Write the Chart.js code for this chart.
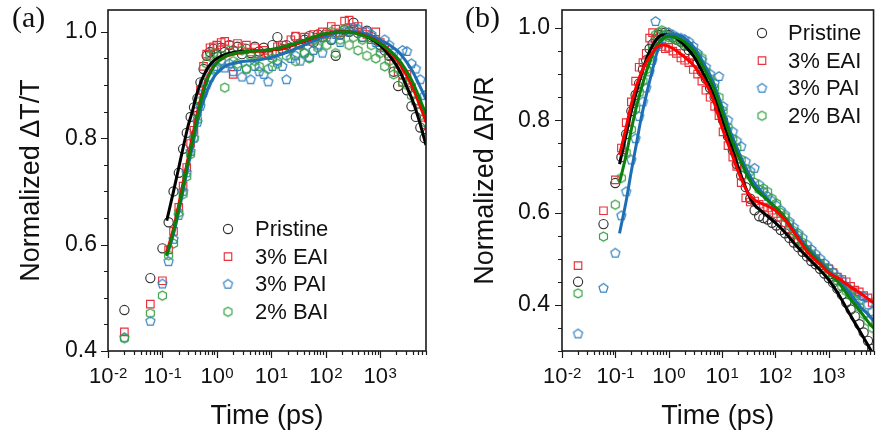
<!DOCTYPE html>
<html>
<head>
<meta charset="utf-8">
<script src="https://cdn.jsdelivr.net/npm/chart.js@4.4.1/dist/chart.umd.min.js"></script>
<style>
  html, body { margin: 0; padding: 0; background: #fff; overflow: hidden; }
  #wrap { position: relative; width: 877px; height: 438px; overflow: hidden; }
  .panel { position: absolute; top: 0; width: 440px; height: 438px; }
</style>
</head>
<body>
<div id="wrap">
  <div class="panel" style="left:0"><canvas id="chartA" width="440" height="438"></canvas></div>
  <div class="panel" style="left:440px"><canvas id="chartB" width="440" height="438"></canvas></div>
</div>
<script>
// delay times (ps) of the measured points, shared by every series
const times = [0.02, 0.06, 0.1, 0.13, 0.16, 0.2, 0.24, 0.28, 0.33, 0.38,
  0.44, 0.5, 0.57, 0.65, 0.75, 0.87, 1.0, 1.2, 1.4, 1.7,
  2.0, 2.4, 2.9, 3.5, 4.2, 5, 6, 7.3, 8.8, 10.5,
  13, 16, 19, 23, 28, 34, 41, 50, 60, 72,
  87, 105, 127, 153, 185, 223, 270, 326, 394, 475,
  574, 693, 837, 1010, 1220, 1470, 1780, 2150, 2600, 3130,
  3780, 4560, 5500, 6600];

const seriesNames = ['Pristine', '3% EAI', '3% PAI', '2% BAI'];

// (a) normalized dT/T
const pristineA = [0.477, 0.537, 0.593, 0.642, 0.700, 0.735, 0.780, 0.810, 0.840, 0.858,
  0.875, 0.905, 0.930, 0.955, 0.962, 0.968, 0.958, 0.970, 0.962, 0.975,
  0.965, 0.972, 0.958, 0.968, 0.960, 0.972, 0.963, 0.970, 0.960, 0.975,
  0.990, 0.968, 0.975, 0.970, 0.990, 0.978, 0.985, 0.992, 0.980, 0.995,
  0.990, 0.998, 0.985, 0.955, 0.995, 1.003, 1.000, 1.017, 0.998, 0.990,
  1.002, 0.990, 0.985, 0.975, 0.965, 0.955, 0.925, 0.898, 0.920, 0.890,
  0.860, 0.840, 0.820, 0.800];
const eaiA = [0.436, 0.488, 0.532, 0.590, 0.625, 0.670, 0.710, 0.745, 0.790, 0.815,
  0.850, 0.890, 0.935, 0.958, 0.970, 0.972, 0.975, 0.980, 0.982, 0.975,
  0.920, 0.978, 0.970, 0.975, 0.962, 0.970, 0.958, 0.965, 0.955, 0.960,
  0.972, 0.975, 0.968, 0.985, 0.992, 0.975, 0.990, 0.982, 0.995, 0.990,
  1.000, 0.995, 1.010, 1.005, 0.998, 1.020, 1.022, 1.005, 1.010, 1.000,
  0.995, 0.985, 1.000, 0.980, 0.970, 0.955, 0.940, 0.925, 0.905, 0.920,
  0.895, 0.870, 0.850, 0.825];
const paiA = [0.425, 0.456, 0.526, 0.568, 0.610, 0.655, 0.700, 0.735, 0.775, 0.800,
  0.830, 0.860, 0.885, 0.900, 0.915, 0.930, 0.935, 0.945, 0.932, 0.940,
  0.925, 0.935, 0.915, 0.930, 0.910, 0.935, 0.925, 0.920, 0.906, 0.935,
  0.945, 0.935, 0.910, 0.950, 0.955, 0.945, 0.960, 0.952, 0.965, 0.975,
  0.960, 0.990, 0.985, 0.995, 0.980, 1.000, 1.000, 1.008, 1.005, 0.990,
  1.000, 0.995, 0.980, 0.970, 0.985, 0.975, 0.960, 0.955, 0.965, 0.963,
  0.940, 0.930, 0.910, 0.880];
const baiA = [0.424, 0.471, 0.504, 0.580, 0.602, 0.660, 0.695, 0.728, 0.770, 0.800,
  0.835, 0.870, 0.905, 0.940, 0.955, 0.960, 0.930, 0.955, 0.895, 0.965,
  0.945, 0.940, 0.965, 0.930, 0.955, 0.945, 0.935, 0.958, 0.930, 0.950,
  0.940, 0.965, 0.955, 0.970, 0.945, 0.975, 0.960, 0.950, 0.985, 0.970,
  0.990, 0.975, 1.000, 0.960, 0.985, 1.005, 0.975, 0.990, 0.965, 0.985,
  0.955, 0.975, 0.950, 0.960, 0.935, 0.945, 0.920, 0.930, 0.905, 0.900,
  0.880, 0.870, 0.850, 0.830];

const fitTimesA = [0.12, 0.16, 0.2, 0.25, 0.3, 0.35, 0.42, 0.5, 0.6, 0.7,
  0.85, 1, 1.4, 2, 3, 5, 10, 20, 40, 80,
  150, 250, 400, 700, 1000, 1500, 2200, 3000, 4000, 5000, 6000, 7000];
const fitPristineA = [0.645, 0.700, 0.745, 0.790, 0.825, 0.848, 0.880, 0.903, 0.922, 0.934,
  0.944, 0.950, 0.957, 0.961, 0.963, 0.964, 0.966, 0.972, 0.982, 0.993,
  0.999, 1.000, 0.997, 0.986, 0.975, 0.955, 0.930, 0.900, 0.870, 0.840, 0.812, 0.787];
const fitEaiA = [0.585, 0.630, 0.675, 0.725, 0.765, 0.800, 0.838, 0.872, 0.900, 0.918,
  0.933, 0.942, 0.953, 0.958, 0.961, 0.963, 0.966, 0.972, 0.982, 0.993,
  0.999, 1.000, 0.997, 0.988, 0.979, 0.963, 0.943, 0.920, 0.895, 0.870, 0.850, 0.830];
const fitPaiA = [0.578, 0.620, 0.662, 0.710, 0.750, 0.780, 0.820, 0.852, 0.877, 0.895,
  0.912, 0.922, 0.935, 0.941, 0.944, 0.946, 0.952, 0.962, 0.975, 0.988,
  0.997, 1.000, 0.999, 0.993, 0.985, 0.975, 0.962, 0.945, 0.925, 0.905, 0.888, 0.873];
const fitBaiA = [0.580, 0.625, 0.668, 0.718, 0.758, 0.790, 0.830, 0.866, 0.895, 0.915,
  0.932, 0.942, 0.953, 0.959, 0.962, 0.964, 0.967, 0.974, 0.984, 0.994,
  0.999, 1.000, 0.996, 0.987, 0.978, 0.965, 0.948, 0.928, 0.905, 0.882, 0.862, 0.845];

// (b) normalized dR/R
const pristineB = [0.450, 0.575, 0.664, 0.720, 0.770, 0.820, 0.855, 0.880, 0.910, 0.930,
  0.955, 0.965, 0.975, 0.985, 0.990, 0.990, 0.985, 0.980, 0.975, 0.970,
  0.962, 0.952, 0.940, 0.925, 0.905, 0.890, 0.870, 0.850, 0.825, 0.800,
  0.765, 0.735, 0.705, 0.680, 0.655, 0.630, 0.605, 0.592, 0.588, 0.585,
  0.578, 0.572, 0.562, 0.555, 0.545, 0.535, 0.525, 0.515, 0.505, 0.495,
  0.488, 0.478, 0.468, 0.458, 0.448, 0.435, 0.422, 0.405, 0.390, 0.375,
  0.358, 0.340, 0.322, 0.305];
const eaiB = [0.485, 0.604, 0.671, 0.740, 0.795, 0.840, 0.885, 0.915, 0.925, 0.945,
  0.978, 0.990, 0.975, 0.965, 0.960, 0.955, 0.958, 0.950, 0.945, 0.935,
  0.930, 0.925, 0.910, 0.900, 0.885, 0.865, 0.850, 0.830, 0.810, 0.775,
  0.745, 0.720, 0.700, 0.665, 0.632, 0.623, 0.625, 0.618, 0.612, 0.610,
  0.605, 0.598, 0.590, 0.578, 0.565, 0.555, 0.540, 0.530, 0.518, 0.505,
  0.500, 0.490, 0.480, 0.478, 0.470, 0.460, 0.455, 0.450, 0.440, 0.432,
  0.428, 0.420, 0.415, 0.405];
const paiB = [0.337, 0.436, 0.512, 0.593, 0.645, 0.714, 0.760, 0.808, 0.840, 0.870,
  0.905, 0.930, 1.014, 0.965, 0.975, 0.985, 0.990, 0.985, 0.980, 0.978,
  0.975, 0.970, 0.960, 0.945, 0.930, 0.915, 0.900, 0.880, 0.895, 0.830,
  0.800, 0.775, 0.755, 0.743, 0.710, 0.690, 0.696, 0.660, 0.645, 0.635,
  0.625, 0.615, 0.605, 0.595, 0.580, 0.568, 0.555, 0.545, 0.530, 0.520,
  0.510, 0.500, 0.490, 0.480, 0.470, 0.460, 0.452, 0.440, 0.430, 0.420,
  0.410, 0.418, 0.400, 0.385];
const baiB = [0.425, 0.548, 0.617, 0.675, 0.730, 0.780, 0.825, 0.860, 0.885, 0.910,
  0.935, 0.955, 0.985, 0.990, 0.995, 0.985, 0.980, 0.978, 0.975, 0.970,
  0.965, 0.960, 0.950, 0.940, 0.935, 0.905, 0.890, 0.870, 0.850, 0.820,
  0.785, 0.760, 0.740, 0.715, 0.695, 0.680, 0.665, 0.650, 0.652, 0.645,
  0.630, 0.620, 0.600, 0.590, 0.575, 0.560, 0.550, 0.535, 0.520, 0.510,
  0.500, 0.490, 0.480, 0.470, 0.460, 0.452, 0.440, 0.430, 0.420, 0.410,
  0.395, 0.380, 0.365, 0.350];

const fitTimesB = [0.12, 0.16, 0.2, 0.25, 0.3, 0.4, 0.5, 0.6, 0.75, 1,
  1.5, 2, 3, 5, 7, 10, 15, 20, 30, 40,
  60, 100, 150, 250, 400, 700, 1000, 1500, 2500, 4000, 6000, 7000];
const fitPristineB = [0.705, 0.770, 0.820, 0.862, 0.895, 0.938, 0.962, 0.976, 0.985, 0.986,
  0.975, 0.962, 0.938, 0.890, 0.855, 0.805, 0.745, 0.700, 0.645, 0.618,
  0.600, 0.578, 0.558, 0.528, 0.503, 0.475, 0.455, 0.425, 0.380, 0.340, 0.305, 0.290];
const fitEaiB = [0.725, 0.785, 0.835, 0.875, 0.900, 0.930, 0.947, 0.958, 0.963, 0.960,
  0.948, 0.937, 0.918, 0.880, 0.842, 0.785, 0.730, 0.690, 0.645, 0.628,
  0.618, 0.605, 0.585, 0.550, 0.515, 0.488, 0.470, 0.458, 0.440, 0.425, 0.410, 0.405];
const fitPaiB = [0.555, 0.625, 0.690, 0.750, 0.800, 0.865, 0.910, 0.945, 0.972, 0.986,
  0.985, 0.978, 0.958, 0.915, 0.880, 0.830, 0.770, 0.735, 0.690, 0.665,
  0.640, 0.610, 0.590, 0.555, 0.525, 0.495, 0.475, 0.455, 0.425, 0.395, 0.375, 0.365];
const fitBaiB = [0.665, 0.725, 0.780, 0.830, 0.865, 0.912, 0.942, 0.962, 0.976, 0.982,
  0.978, 0.970, 0.950, 0.905, 0.870, 0.820, 0.760, 0.725, 0.680, 0.655,
  0.635, 0.612, 0.590, 0.550, 0.520, 0.490, 0.470, 0.450, 0.415, 0.385, 0.358, 0.350];

const xTickExponents = [-2, -1, 0, 1, 2, 3];
const yTicksA = [0.4, 0.6, 0.8, 1.0];
const yTicksB = [0.4, 0.6, 0.8, 1.0];

const FONT = '"Liberation Sans", Arial, Helvetica, sans-serif';
Chart.defaults.font.family = FONT;
Chart.defaults.color = '#111';

const markerColors = ['#333333', '#e8303a', '#2f80c0', '#36a042'];
const lineColors = ['#000000', '#ff0000', '#1f6eb4', '#0a800a'];

// pentagon / hexagon markers don't exist in chart.js, build them as small canvases
function polygonMarker(sides, color, r) {
  const size = Math.ceil(r * 2 + 3);
  const c = document.createElement('canvas');
  c.width = size; c.height = size;
  const g = c.getContext('2d');
  g.strokeStyle = color;
  g.lineWidth = 1.15;
  g.beginPath();
  for (let i = 0; i < sides; i++) {
    const a = i * 2 * Math.PI / sides;
    const px = size / 2 + r * Math.sin(a);
    const py = size / 2 - r * Math.cos(a);
    if (i === 0) g.moveTo(px, py); else g.lineTo(px, py);
  }
  g.closePath();
  g.stroke();
  return c;
}

const pointStyles = ['circle', 'rect', polygonMarker(5, markerColors[2], 4.8), polygonMarker(6, markerColors[3], 4.6)];
const pointRadii = [4.6, 5.3, 5, 5];

function pointSet(i, ys, order) {
  return {
    label: seriesNames[i],
    data: times.map((t, k) => ({ x: t, y: ys[k] })),
    showLine: false,
    pointStyle: pointStyles[i],
    pointRadius: pointRadii[i],
    pointBorderColor: markerColors[i],
    pointBorderWidth: 1.15,
    pointBackgroundColor: 'rgba(0,0,0,0)',
    order: order,
    clip: 0
  };
}

function fitSet(i, xs, ys, order) {
  return {
    label: seriesNames[i] + ' fit',
    data: xs.map((t, k) => ({ x: t, y: ys[k] })),
    showLine: true,
    pointRadius: 0,
    borderColor: lineColors[i],
    borderWidth: 3,
    cubicInterpolationMode: 'monotone',
    order: order,
    clip: 0
  };
}

function framePlugin(p) {
  return {
    id: 'frame',
    afterDraw(chart) {
      const { ctx, chartArea: a, scales: { x, y } } = chart;
      ctx.save();
      // frame
      ctx.strokeStyle = '#1a1a1a';
      ctx.lineWidth = 1.6;
      ctx.strokeRect(a.left, a.top, a.right - a.left, a.bottom - a.top);

      // ticks, outward
      ctx.lineWidth = 1.2;
      ctx.beginPath();
      for (let k = Math.ceil(p.yMin / 0.05 - 1e-6); k * 0.05 <= p.yMax + 1e-6; k++) {
        const py = Math.round(y.getPixelForValue(k * 0.05)) + 0.5;
        const len = k % 4 === 0 ? 7 : 4;
        ctx.moveTo(a.left - len, py);
        ctx.lineTo(a.left, py);
      }
      for (let e = -2; e <= 3; e++) {
        for (let m = 1; m <= 9; m++) {
          const v = m * Math.pow(10, e);
          if (v < x.min || v > x.max) continue;
          const px = Math.round(x.getPixelForValue(v)) + 0.5;
          const len = m === 1 ? 7 : 4;
          ctx.moveTo(px, a.bottom);
          ctx.lineTo(px, a.bottom + len);
        }
      }
      ctx.stroke();

      // x tick labels with superscript exponents
      ctx.fillStyle = '#111';
      ctx.textBaseline = 'alphabetic';
      ctx.textAlign = 'left';
      xTickExponents.forEach(e => {
        const tx = x.getPixelForValue(Math.pow(10, e));
        ctx.font = '22px ' + FONT;
        const w1 = ctx.measureText('10').width;
        ctx.font = '15px ' + FONT;
        const w2 = ctx.measureText(String(e)).width;
        const sx = tx - (w1 + w2) / 2;
        ctx.font = '22px ' + FONT;
        ctx.fillText('10', sx, 383);
        ctx.font = '15px ' + FONT;
        ctx.fillText(String(e), sx + w1 + 0.5, 378);
      });

      // legend
      ctx.textBaseline = 'middle';
      seriesNames.forEach((name, i) => {
        const ly = p.legendY + i * 27.6;
        ctx.strokeStyle = markerColors[i];
        ctx.fillStyle = 'rgba(0,0,0,0)';
        ctx.lineWidth = 1.15;
        Chart.helpers.drawPoint(ctx, { pointStyle: pointStyles[i], radius: pointRadii[i], borderWidth: 1.15, rotation: 0 }, p.legendX, ly);
        ctx.fillStyle = '#111';
        ctx.font = '22px ' + FONT;
        ctx.fillText(name, p.legendTextX, ly + 1);
      });

      // panel tag
      ctx.textBaseline = 'alphabetic';
      ctx.font = '30px "Liberation Serif", "Times New Roman", serif';
      ctx.fillText(p.tag, p.tagX, 27);
      ctx.restore();
    }
  };
}

function makeChart(id, p, datasets) {
  return new Chart(document.getElementById(id), {
    type: 'scatter',
    data: { datasets: datasets },
    options: {
      responsive: false,
      animation: false,
      layout: { padding: { top: 10, right: p.padRight, bottom: 0, left: 0 } },
      plugins: { legend: { display: false }, tooltip: { enabled: false } },
      scales: {
        x: {
          type: 'logarithmic',
          min: 0.01,
          max: 7000,
          grid: { display: false, drawTicks: false },
          border: { display: false },
          ticks: { display: false },
          title: { display: true, text: 'Time (ps)', font: { size: 27 }, color: '#111', padding: { top: 0, bottom: 5 } },
          afterFit(s) { s.height = 87; }
        },
        y: {
          min: p.yMin,
          max: p.yMax,
          grid: { display: false, drawTicks: false },
          border: { display: false },
          afterBuildTicks(s) { s.ticks = p.yTicks.map(v => ({ value: v })); },
          ticks: { padding: p.yLabelPad, font: { size: 23 }, color: '#111', callback: v => Number(v).toFixed(1) },
          title: { display: true, text: p.yTitle, font: { size: 27 }, color: '#111', padding: { top: p.yTitlePad, bottom: 0 } },
          afterFit(s) { s.width = p.yWidth; s.paddingTop = 0; s.paddingBottom = 0; }
        }
      }
    },
    plugins: [framePlugin(p)]
  });
}

makeChart('chartA', {
  tag: '(a)', tagX: 12, padRight: 14, yWidth: 108, yMin: 0.4, yMax: 1.041, yTicks: yTicksA,
  yLabelPad: 11, yTitle: 'Normalized \u0394T/T', yTitlePad: 15,
  legendX: 228, legendTextX: 255, legendY: 229
}, [
  fitSet(3, fitTimesA, fitBaiA, 0),
  fitSet(1, fitTimesA, fitEaiA, 1),
  fitSet(2, fitTimesA, fitPaiA, 2),
  fitSet(0, fitTimesA, fitPristineA, 3),
  pointSet(3, baiA, 10),
  pointSet(2, paiA, 11),
  pointSet(1, eaiA, 12),
  pointSet(0, pristineA, 13)
]);

makeChart('chartB', {
  tag: '(b)', tagX: 25, padRight: 0, yWidth: 122, yMin: 0.3, yMax: 1.039, yTicks: yTicksB,
  yLabelPad: 12, yTitle: 'Normalized \u0394R/R', yTitlePad: 29,
  legendX: 322, legendTextX: 348, legendY: 33
}, [
  fitSet(1, fitTimesB, fitEaiB, 0),
  fitSet(3, fitTimesB, fitBaiB, 1),
  fitSet(2, fitTimesB, fitPaiB, 2),
  fitSet(0, fitTimesB, fitPristineB, 3),
  pointSet(3, baiB, 10),
  pointSet(2, paiB, 11),
  pointSet(1, eaiB, 12),
  pointSet(0, pristineB, 13)
]);
</script>
</body>
</html>
